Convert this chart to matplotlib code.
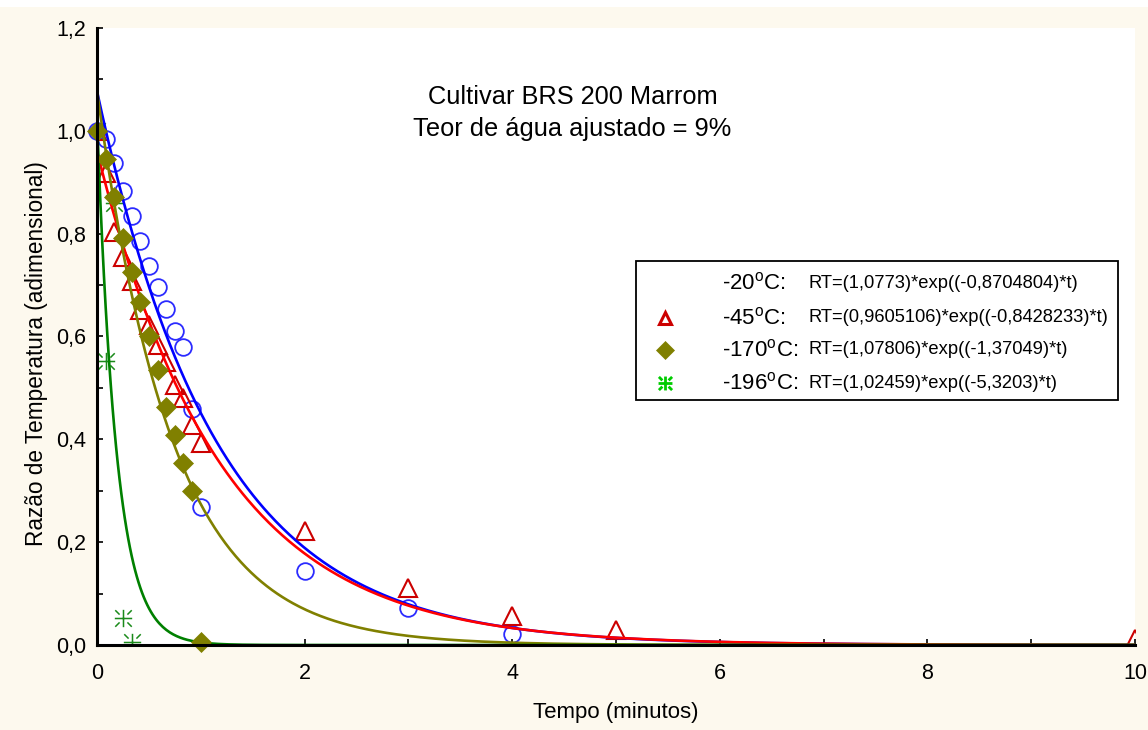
import numpy as np
import matplotlib
matplotlib.use("Agg")
import matplotlib.pyplot as plt
from matplotlib.path import Path
from matplotlib.patches import Rectangle
from matplotlib.ticker import FuncFormatter, MultipleLocator

plt.rcParams['font.family'] = ['Liberation Sans', 'DejaVu Sans']
plt.rcParams['mathtext.fontset'] = 'custom'
plt.rcParams['mathtext.rm'] = 'Liberation Sans'

# ---------------- data ----------------
t_short = [0, 0.083, 0.167, 0.25, 0.333, 0.417, 0.5, 0.583, 0.667, 0.75, 0.833, 0.917, 1.0]

t_m20 = t_short + [2, 3, 4]
rt_m20 = [1.0, 0.984, 0.937, 0.883, 0.835, 0.786, 0.738, 0.697, 0.653, 0.611, 0.579, 0.459, 0.269,
          0.144, 0.072, 0.021]

t_m45 = t_short + [2, 3, 4, 5, 10]
rt_m45 = [1.0, 0.918, 0.804, 0.755, 0.707, 0.652, 0.622, 0.583, 0.551, 0.506, 0.48, 0.428, 0.392,
          0.222, 0.11, 0.056, 0.029, 0.012]

t_m170 = t_short
rt_m170 = [1.0, 0.946, 0.872, 0.791, 0.726, 0.667, 0.6, 0.535, 0.462, 0.408, 0.353, 0.3, 0.005]

t_m196 = [0, 0.083, 0.167, 0.25, 0.333]
rt_m196 = [1.0, 0.553, 0.86, 0.052, 0.005]

# fitted models RT = a*exp(k*t)
fit_a = [1.0773, 0.9605106, 1.07806, 1.02459]
fit_k = [-0.8704804, -0.8428233, -1.37049, -5.3203]
temp_labels = ["-20", "-45", "-170", "-196"]
eq_labels = ["RT=(1,0773)*exp((-0,8704804)*t)",
             "RT=(0,9605106)*exp((-0,8428233)*t)",
             "RT=(1,07806)*exp((-1,37049)*t)",
             "RT=(1,02459)*exp((-5,3203)*t)"]

title_lines = ["Cultivar BRS 200 Marrom", "Teor de água ajustado = 9%"]
x_label = "Tempo (minutos)"
y_label = "Razão de Temperatura (adimensional)"

# ---------------- styling ----------------
line_colors = ["#0000ff", "#ff0000", "#808000", "#008000"]

# asterisk-like marker (plus + broken diagonals)
d1, d2 = 0.45, 0.95
verts = [(0, -1), (0, 1), (-1, 0), (1, 0),
         (d1, d1), (d2, d2), (-d1, -d1), (-d2, -d2),
         (d1, -d1), (d2, -d2), (-d1, d1), (-d2, d2)]
codes = [Path.MOVETO, Path.LINETO] * 6
star_marker = Path(verts, codes)

fig = plt.figure(figsize=(11.48, 7.30), dpi=100, facecolor="#fdf9ee")
ax = fig.add_axes([97 / 1148, 85 / 730, (1135 - 97) / 1148, (645 - 28) / 730])
ax.set_facecolor("white")

# white strip at very top
fig.patches.append(Rectangle((0, 1 - 7 / 730), 1, 7 / 730, transform=fig.transFigure,
                             facecolor="white", edgecolor="none", zorder=-10))

tt = np.linspace(0, 10, 600)
for a, k, c in zip(fit_a, fit_k, line_colors):
    ax.plot(tt, a * np.exp(k * tt), color=c, lw=1.9, zorder=3, clip_on=True)

ax.plot(t_m20, rt_m20, linestyle="none", marker="o", markersize=12, markerfacecolor="none",
        markeredgecolor="#2b2bff", markeredgewidth=1.3, zorder=2, clip_on=False)
ax.plot(t_m45, rt_m45, linestyle="none", marker="^", markersize=12.5, markerfacecolor="none",
        markeredgecolor="#cc0000", markeredgewidth=1.5, zorder=2, clip_on=True)
ax.plot(t_m170, rt_m170, linestyle="none", marker="D", markersize=10, markerfacecolor="#808000",
        markeredgecolor="#808000", markeredgewidth=0.5, zorder=4, clip_on=False)
ax.plot(t_m196, rt_m196, linestyle="none", marker=star_marker, markersize=12.5,
        markerfacecolor="none", markeredgecolor="#1a8a1a", markeredgewidth=1.1, zorder=2,
        clip_on=True)

ax.set_xlim(0, 10)
ax.set_ylim(0, 1.2)

ax.xaxis.set_major_locator(MultipleLocator(2))
ax.xaxis.set_minor_locator(MultipleLocator(1))
ax.yaxis.set_major_locator(MultipleLocator(0.2))
ax.yaxis.set_minor_locator(MultipleLocator(0.1))
ax.yaxis.set_major_formatter(FuncFormatter(lambda v, p: f"{v:.1f}".replace(".", ",")))
ax.xaxis.set_major_formatter(FuncFormatter(lambda v, p: f"{v:.0f}"))

for s in ["top", "right"]:
    ax.spines[s].set_visible(False)
for s in ["left", "bottom"]:
    ax.spines[s].set_linewidth(2.2)
    ax.spines[s].set_color("black")
    ax.spines[s].set_zorder(5)

ax.tick_params(which="both", direction="in", length=4, width=1.2, labelsize=15.5,
               colors="black", pad=8)
ax.tick_params(axis="x", pad=13)

ax.set_xlabel(x_label, fontsize=16, labelpad=13)
ax.set_ylabel(y_label, fontsize=16.3)
ax.yaxis.set_label_coords((48 - 97) / 1038, (645 - 354) / 617)

ax.text(0.458, 0.888, title_lines[0], transform=ax.transAxes, ha="center", va="center",
        fontsize=18.3)
ax.text(0.458, 0.836, title_lines[1], transform=ax.transAxes, ha="center", va="center",
        fontsize=18.3)

# ---------------- manual legend ----------------
def fx(px):
    return (px - 97) / (1135 - 97)

def fy(py):
    return (645 - py) / (645 - 28)

ax.add_patch(Rectangle((fx(636), fy(400)), fx(1118) - fx(636), fy(261) - fy(400),
                       transform=ax.transAxes, facecolor="white", edgecolor="black",
                       linewidth=1.3, zorder=6, clip_on=False))

rows_py = [283, 318, 350, 383]
leg_markers = [None, "^", "D", star_marker]
leg_mfc = [None, "none", "#808000", "none"]
leg_mec = [None, "#cc0000", "#808000", "#00cc00"]
leg_ms = [None, 8, 9, 10]
leg_mew = [None, 2.2, 0.5, 2.0]
for i, py in enumerate(rows_py):
    if leg_markers[i] is not None:
        ax.plot([fx(665)], [fy(py)], transform=ax.transAxes, linestyle="none",
                marker=leg_markers[i], markersize=leg_ms[i], markerfacecolor=leg_mfc[i],
                markeredgecolor=leg_mec[i], markeredgewidth=leg_mew[i], zorder=7,
                clip_on=False)
    ax.text(fx(722), fy(py), f"{temp_labels[i]}$^{{\\mathregular{{o}}}}$C:",
            transform=ax.transAxes, ha="left", va="center", fontsize=16, zorder=7)
    ax.text(fx(808), fy(py), eq_labels[i], transform=ax.transAxes, ha="left", va="center",
            fontsize=13.2, zorder=7)

fig.savefig("out.png", dpi=100, facecolor=fig.get_facecolor())
